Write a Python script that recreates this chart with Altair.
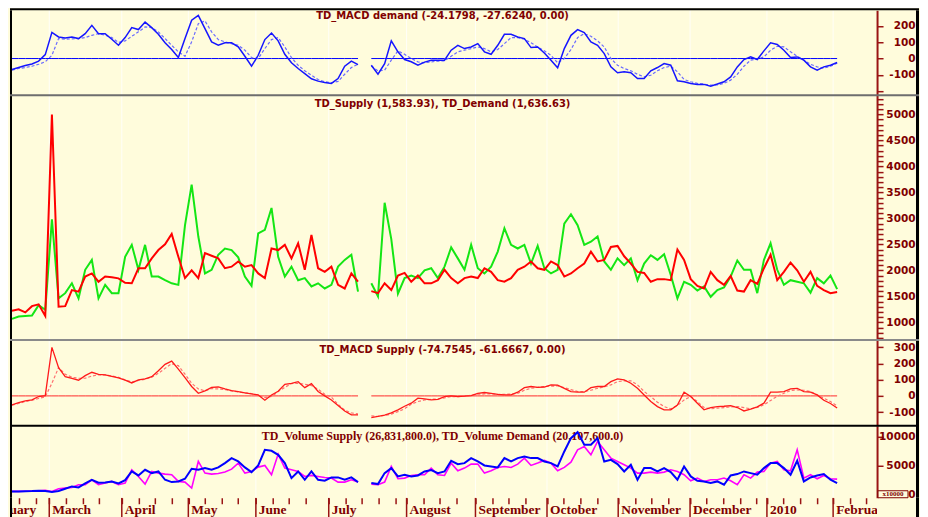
import altair as alt
import pandas as pd

K = list(range(125))
day = [2 * k for k in K]                 # trading-day index, sampled every 2 days
seg = [0 if k < 53 else 1 for k in K]    # data gap in July splits the lines

supply = [1220,1250,1190,1310,1345,1120,5000,1300,1310,1620,
          1590,1880,1940,1780,1880,1865,1845,1760,1750,2040,
          2040,2230,2390,2500,2700,2260,1850,2000,1850,2330,
          2280,2230,2040,2070,2170,2070,2100,1940,1850,2420,
          2390,2490,2230,2520,2010,2680,2040,1970,2070,1720,
          1650,1940,1780,None,1600,1560,1750,1620,1900,1950,
          1780,1900,1750,1750,1810,2010,1850,1750,1850,1880,
          1850,2040,1970,1810,1780,1850,2010,2070,2170,2040,
          2010,2170,2100,1880,1940,2040,2130,2360,2170,2200,
          2450,2470,2270,2130,1970,1950,1780,1830,1830,1810,
          2400,2200,1830,1700,1650,1970,1810,1720,1890,1610,
          1590,1810,1740,2040,2300,1810,1970,2150,2000,1780,
          1970,1700,1620,1560,1584]
demand = [1065,1110,1120,1130,1330,1240,2980,1460,1560,1750,
          1460,2010,2200,1460,1720,1560,1560,2260,2490,2010,
          2490,1880,1880,1810,1750,1720,2870,3650,2650,1940,
          2010,2300,2420,2390,2250,1880,1700,2710,2780,3200,
          2260,1880,2070,1810,1850,1690,1750,1650,1720,2070,
          2200,2300,1590,None,1750,1500,3300,2600,1550,1850,
          1900,1850,2000,2040,1850,2070,2440,2230,2010,2490,
          2040,1940,2070,2360,2810,2490,2420,2490,2130,2470,
          2040,1940,2010,2900,3080,2870,2490,2550,2650,2170,
          2010,2230,2100,2230,1810,2130,2290,2200,2310,1910,
          1460,1780,1720,1610,1690,1490,1620,1670,1880,2190,
          2010,2010,1560,2200,2520,2010,1720,1810,1780,1750,
          1570,1850,1750,1900,1637]
macd_demand = [-67,-55,-43,-33,-16,24,160,132,126,132,
               122,152,203,152,152,118,81,128,189,177,
               223,189,148,96,55,6,122,234,264,183,
               102,81,96,96,71,14,-47,20,116,156,
               108,26,-26,-61,-92,-124,-138,-146,-152,-122,
               -47,-16,-37,None,-41,-96,-31,108,41,-6,
               -20,-41,-22,-10,-10,-10,51,81,61,71,
               91,41,26,81,148,148,132,122,67,71,
               34,-10,-57,61,142,177,159,102,81,30,
               -51,-87,-81,-87,-122,-122,-75,-55,-31,-41,
               -136,-142,-152,-158,-158,-169,-156,-142,-112,-51,
               -6,10,-6,47,96,86,51,6,10,-10,
               -51,-71,-51,-41,-24]
macd_demand_sig = [-71,-61,-55,-47,-35,-20,20,122,118,120,
                   122,128,142,152,142,128,98,108,136,163,
                   193,189,163,122,81,41,14,102,213,230,
                   163,116,102,91,81,51,6,0,61,116,
                   128,71,6,-41,-75,-102,-128,-142,-148,-140,
                   -96,-55,-35,None,-45,-75,-71,-10,47,26,
                   0,-20,-26,-20,-16,-14,14,41,51,61,
                   71,61,41,55,91,128,128,118,96,71,
                   47,20,-26,0,55,128,152,136,108,71,
                   0,-41,-61,-75,-96,-112,-102,-75,-55,-47,
                   -81,-128,-142,-152,-156,-163,-161,-152,-132,-96,
                   -47,-10,-2,10,51,75,71,41,14,-10,
                   -35,-51,-59,-47,-28]
macd_supply = [-55,-41,-31,-25,-4,2,300,175,119,109,
               97,125,146,133,130,121,111,97,80,99,
               105,119,156,195,215,166,113,58,16,31,
               53,55,43,33,27,19,12,6,-27,6,
               29,72,78,88,51,76,27,0,-25,-60,
               -93,-117,-117,None,-134,-127,-119,-105,-86,-64,
               -45,-14,-18,-25,-21,-4,0,-4,-2,2,
               16,21,16,10,6,6,23,51,58,53,
               55,68,66,47,27,23,23,51,58,58,
               88,105,99,78,47,6,-35,-66,-86,-86,
               -56,23,-4,-45,-86,-72,-66,-64,-60,-72,
               -93,-82,-68,-45,23,23,27,43,47,27,
               23,6,-27,-47,-75]
macd_supply_sig = [-58,-47,-35,-27,-16,-6,78,175,134,115,
                   109,109,123,130,130,123,115,99,86,95,
                   103,115,140,170,199,187,134,78,43,31,
                   45,43,39,31,25,19,14,6,-10,-4,
                   27,53,76,78,72,64,41,10,-8,-53,
                   -88,-105,-111,None,-123,-127,-121,-113,-97,-80,
                   -51,-35,-25,-21,-19,-12,-4,-4,-2,4,
                   10,12,12,10,10,12,16,35,47,53,
                   58,60,62,51,39,27,27,35,47,56,
                   68,88,93,93,68,27,-4,-39,-66,-80,
                   -60,-25,-4,-35,-72,-80,-76,-72,-68,-66,
                   -72,-80,-72,-55,-29,-2,16,33,37,35,
                   27,6,-14,-35,-62]
vol_demand = [572,572,600,629,686,657,457,657,1029,1429,
              1258,1944,2573,2058,2115,2287,1944,2516,4002,3316,
              4288,3716,4002,2573,2172,2287,2744,4460,4288,4574,
              4288,4688,5431,6288,5717,4688,3888,5031,7718,7547,
              6860,5431,2858,4002,2573,4002,2573,2401,2973,2973,
              2573,2973,2172,None,2001,1829,3716,4574,3145,3430,
              3145,3316,4002,4231,3716,4002,5831,5259,5431,6288,
              5717,5031,4859,4688,6288,5717,6288,6574,6288,6288,
              5717,5431,4859,7432,9719,10748,8575,8575,9719,5717,
              6002,5259,4002,5145,2573,4574,4574,4002,4574,3888,
              2573,4859,3145,2401,2287,2001,2287,1715,3316,3545,
              4002,3716,3430,4574,5431,5431,4574,3430,5831,2287,
              2973,3316,3545,2573,2011]
vol_supply = [572,572,600,629,657,772,572,1029,1143,1258,
              1715,1715,2573,1715,2001,2287,1715,2001,4288,3145,
              1829,4002,3716,3545,3430,2287,2172,1143,5717,3716,
              3545,3659,3888,4402,5431,3716,4002,4745,5031,3430,
              6974,4574,4288,4002,3145,3316,3145,2973,2858,2172,
              2172,2573,2172,None,1829,1715,2172,4859,2744,2858,
              3316,3430,3430,4574,3430,3316,5431,4117,4574,5259,
              5259,3716,4117,4688,4859,4688,5259,6288,5031,5431,
              5889,5431,4117,4688,5602,7718,8289,6860,9147,7718,
              6288,5717,5145,4574,3716,3716,3888,3716,3888,4288,
              4002,3430,2401,2858,2287,2573,2573,2858,2401,1715,
              3430,2858,3888,4002,5431,5717,4288,4117,7718,2858,
              3430,2744,3316,2744,2683]
zero = [None if k == 53 else 0 for k in K]

month_labels = ["February", "March", "April", "May", "June", "July", "August",
                "September", "October", "November", "December", "2010", "February"]
month_days = [-10, 11.2, 33.0, 53.0, 73.3, 95.2, 118.6, 139.3, 160.8, 182.2, 203.8, 226.9, 246.8]

titles = ["TD_MACD demand (-24.1798, -27.6240, 0.00)",
          "TD_Supply (1,583.93), TD_Demand (1,636.63)",
          "TD_MACD Supply (-74.7545, -61.6667, 0.00)",
          "TD_Volume Supply (26,831,800.0), TD_Volume Demand (20,107,600.0)"]

df = pd.DataFrame(dict(day=day, seg=seg, supply=supply, demand=demand,
                       macd_demand=macd_demand, macd_demand_sig=macd_demand_sig,
                       macd_supply=macd_supply, macd_supply_sig=macd_supply_sig,
                       vol_demand=vol_demand, vol_supply=vol_supply, zero=zero))
months = pd.DataFrame({"day": month_days, "label": month_labels})
one = pd.DataFrame({"a": [0]})

week_ticks = []
edges = month_days[1:] + [262]
starts = [-7.8] + month_days[1:]
for a, b in zip(starts, edges):
    t = a + 5
    while t < b - 2:
        if 0 <= t <= 260:
            week_ticks.append(round(t, 2))
        t += 5
week_ticks = sorted(set(week_ticks + [m for m in month_days if m >= 0]))

W = 866
RB = 906.5          # right frame line (relative to plot origin)
XS = alt.Scale(domain=[0, 260], nice=False, zero=False)
DARK = "#800000"
AXC = "#9A1414"
BG = "#FFFCDC"


def yaxis(values, labelled):
    expr = ("indexof([" + ",".join(str(v) for v in labelled) +
            "], datum.value) >= 0 ? '' + datum.value : ''")
    return alt.Axis(orient="right", values=values, labelExpr=expr, title=None, grid=False,
                    domainColor=AXC, domainWidth=2, tickColor=AXC, tickWidth=1.5, tickSize=6,
                    labelColor=DARK, labelFont="DejaVu Sans", labelFontWeight="bold",
                    labelFontSize=10.5, labelAlign="right", labelPadding=32,
                    labelOverlap=False, labelFlush=False)


def series(col, color, width, ydom, yax, dash=None, xaxis=None):
    kw = dict(color=color, strokeWidth=width, clip=True)
    if dash:
        kw["strokeDash"] = dash
    return alt.Chart(df).mark_line(**kw).transform_filter(f"isValid(datum.{col})").encode(
        x=alt.X("day:Q", scale=XS, axis=xaxis),
        y=alt.Y(f"{col}:Q", scale=alt.Scale(domain=ydom, nice=False, zero=False), axis=yax),
        detail="seg:N",
    )


def grid(xaxis=None):
    return alt.Chart(months).mark_rule(color="#FFFFFF", strokeWidth=1, opacity=0.8, clip=True).encode(
        x=alt.X("day:Q", scale=XS, axis=xaxis))


def title(text, y, font="DejaVu Sans", size=10):
    return alt.Chart(one).mark_text(text=text, font=font, fontSize=size, fontWeight="bold",
                                    color=DARK, align="center", baseline="middle").encode(
        x=alt.value(431), y=alt.value(y))


def frame(h, top_color=None, top_y=0, top_w=2):
    parts = [
        alt.Chart(one).mark_rule(color="black", strokeWidth=2).encode(
            x=alt.value(-1), y=alt.value(0), y2=alt.value(h)),
        alt.Chart(one).mark_rule(color="black", strokeWidth=3).encode(
            x=alt.value(RB), y=alt.value(0), y2=alt.value(h)),
    ]
    if top_color:
        parts.append(alt.Chart(one).mark_rule(color=top_color, strokeWidth=top_w).encode(
            x=alt.value(-2), x2=alt.value(RB + 1.5), y=alt.value(top_y)))
    return parts


# Panel 1: MACD demand
d1 = [-224, 295]
a1 = yaxis([-200, -100, 0, 100, 200], [-100, 0, 100, 200])
p1 = alt.layer(
    grid(), title(titles[0], 5.7),
    series("zero", "#0000FF", 1, d1, a1),
    series("macd_demand_sig", "#6A6AFF", 1.2, d1, a1, dash=[3, 2]),
    series("macd_demand", "#1515FF", 1.5, d1, a1),
    *frame(85, "black", -1, 2),
).properties(width=W, height=85)

# Panel 2: supply / demand
d2 = [660, 5371]
a2 = yaxis(list(range(700, 5400, 100)), list(range(1000, 5001, 500)))
p2 = alt.layer(
    grid(), title(titles[1], 9.3),
    series("demand", "#14E614", 2, d2, a2),
    series("supply", "#FF0000", 2, d2, a2),
    *frame(245, "#6E6E6E"),
).properties(width=W, height=245)

# Panel 3: MACD supply
d3 = [-185, 346]
a3 = yaxis([-100, 0, 100, 200, 300], [-100, 0, 100, 200, 300])
p3 = alt.layer(
    grid(), title(titles[2], 10),
    series("zero", "#FF2A2A", 1, d3, a3),
    series("macd_supply_sig", "#FF7070", 1.2, d3, a3, dash=[3, 2]),
    series("macd_supply", "#FF1A1A", 1.3, d3, a3),
    *frame(86, "#8A8A8A"),
).properties(width=W, height=86)

# Panel 4: volume
d4 = [-515, 11834]
a4 = yaxis([0, 5000, 10000], [0, 5000, 10000])
x4 = alt.Axis(orient="bottom", values=week_ticks, labels=False, domain=False,
              grid=False, tickSize=6, tickColor=AXC, tickWidth=1.5, title=None)
xbox = alt.Chart(one).mark_rect(fill=BG, stroke=DARK, strokeWidth=1).encode(
    x=alt.value(867), x2=alt.value(897), y=alt.value(65), y2=alt.value(72))
xbox_t = alt.Chart(one).mark_text(text="x10000", font="Liberation Serif", fontSize=7,
                                  fontWeight="bold", color=DARK, align="center",
                                  baseline="middle").encode(x=alt.value(882), y=alt.value(68.5))
p4 = alt.layer(
    grid(x4), title(titles[3], 9.7, font="Liberation Serif", size=12),
    series("vol_supply", "#FF00FF", 1.6, d4, a4, xaxis=x4),
    series("vol_demand", "#0000FF", 2, d4, a4, xaxis=x4),
    xbox, xbox_t,
    *frame(72, "black"),
).properties(width=W, height=72)

# Bottom strip: month separators and labels
strip = alt.layer(
    alt.Chart(months).mark_rule(color=AXC, strokeWidth=1.5, clip=True).encode(
        x=alt.X("day:Q", scale=XS, axis=None), y=alt.value(0), y2=alt.value(22)),
    alt.Chart(months).mark_text(align="left", baseline="alphabetic", dx=3,
                                font="Liberation Serif", fontSize=13.5, fontWeight="bold",
                                color=DARK, clip=True).encode(
        x=alt.X("day:Q", scale=XS, axis=None), y=alt.value(16), text="label:N"),
    *frame(20),
).properties(width=W, height=20)

chart = alt.vconcat(p1, p2, p3, p4, strip, spacing=0, bounds="flush").properties(
    padding={"left": 1, "top": 0, "right": 0, "bottom": 0}
).configure(background=BG).configure_view(strokeWidth=0)

chart.save("out.html", embed_options={"renderer": "svg", "actions": False})
